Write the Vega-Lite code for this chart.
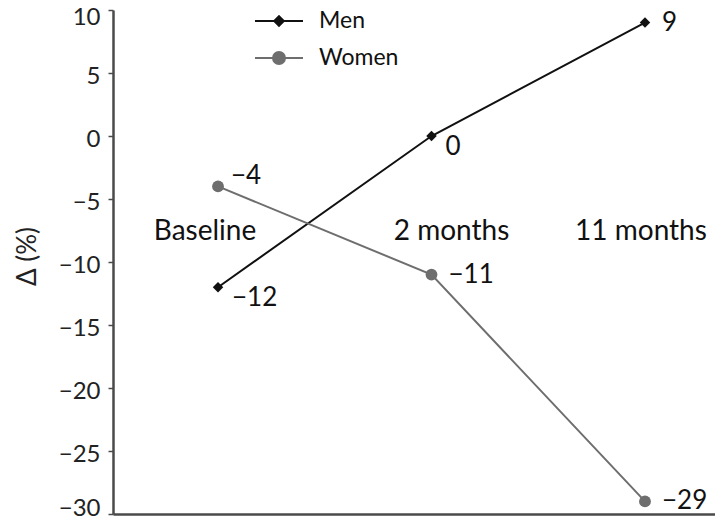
{
  "$schema": "https://vega.github.io/schema/vega-lite/v6.json",
  "width": 602,
  "height": 504,
  "autosize": "none",
  "padding": {"left": 113, "top": 10, "right": 0, "bottom": 14},
  "background": "white",
  "config": {"font": "Lato", "view": {"stroke": null}},
  "datasets": {
    "d": [
      {"group": "Men", "time": "Baseline", "value": -12},
      {"group": "Men", "time": "2 months", "value": 0},
      {"group": "Men", "time": "11 months", "value": 9},
      {"group": "Women", "time": "Baseline", "value": -4},
      {"group": "Women", "time": "2 months", "value": -11},
      {"group": "Women", "time": "11 months", "value": -29}
    ],
    "cats": [
      {"time": "Baseline", "pos": -7.6},
      {"time": "2 months", "pos": -7.6},
      {"time": "11 months", "pos": -7.6}
    ]
  },
  "data": {"name": "d"},
  "encoding": {
    "x": {
      "field": "time", "type": "nominal",
      "scale": {"type": "point", "domain": ["Baseline", "2 months", "11 months"], "padding": 0.41, "align": 0.6},
      "axis": {"title": null, "labels": false, "ticks": false, "domain": true, "domainColor": "#4a4a4a", "domainWidth": 2.5, "grid": false}
    },
    "y": {
      "field": "value", "type": "quantitative",
      "scale": {"domain": [-30, 10], "nice": false, "zero": false},
      "axis": {
        "title": "Δ (%)", "titleFontSize": 26, "titleFontWeight": "normal", "titleColor": "#222",
        "titleX": -73, "titleY": 246, "titleAngle": -90,
        "values": [-30, -25, -20, -15, -10, -5, 0, 5, 10],
        "labelFontSize": 24, "labelColor": "#222", "labelPadding": 8,
        "labelOffset": {"condition": [{"test": "datum.value === 10", "value": 7}, {"test": "datum.value === -30", "value": -6}], "value": 3},
        "tickSize": 5, "tickColor": "#4a4a4a", "tickWidth": 1.5,
        "domainColor": "#4a4a4a", "domainWidth": 2.5, "grid": false
      }
    }
  },
  "layer": [
    {
      "mark": {"type": "line", "strokeWidth": 2},
      "encoding": {
        "color": {
          "field": "group", "type": "nominal",
          "scale": {"domain": ["Men", "Women"], "range": ["#111111", "#6e6e6e"]},
          "legend": {
            "title": null, "orient": "none", "legendX": 141, "legendY": -14,
            "padding": 0, "symbolSize": 2304, "symbolStrokeWidth": 2,
            "labelFontSize": 23, "labelColor": "#111", "labelOffset": 15, "rowPadding": -5,
            "encode": {
              "symbols": {
                "update": {
                  "shape": [
                    {"test": "datum.value === 'Men'", "value": "M-1,0H1M0,-0.2L0.2,0L0,0.2L-0.2,0Z"},
                    {"value": "M-1,0H1M0.25,0A0.25,0.25 0 1,1 -0.25,0A0.25,0.25 0 1,1 0.25,0Z"}
                  ],
                  "fill": [
                    {"test": "datum.value === 'Men'", "value": "#111111"},
                    {"value": "#6e6e6e"}
                  ],
                  "stroke": [
                    {"test": "datum.value === 'Men'", "value": "#111111"},
                    {"value": "#6e6e6e"}
                  ],
                  "strokeWidth": {"value": 2},
                  "opacity": {"value": 1}
                }
              }
            }
          }
        }
      }
    },
    {
      "transform": [{"filter": "datum.group === 'Men'"}],
      "mark": {"type": "point", "shape": "diamond", "filled": true, "size": 110, "color": "#111111", "opacity": 1}
    },
    {
      "transform": [{"filter": "datum.group === 'Women'"}],
      "mark": {"type": "point", "shape": "circle", "filled": true, "size": 140, "color": "#6e6e6e", "opacity": 1}
    },
    {
      "transform": [{"filter": "datum.group === 'Men' && datum.time !== '11 months'"}],
      "mark": {"type": "text", "align": "left", "baseline": "middle", "dx": 14, "dy": 11, "fontSize": 26, "color": "#111"},
      "encoding": {"text": {"field": "value", "type": "quantitative", "format": "d"}}
    },
    {
      "transform": [{"filter": "(datum.group === 'Men' && datum.time === '11 months') || (datum.group === 'Women' && datum.time !== 'Baseline')"}],
      "mark": {"type": "text", "align": "left", "baseline": "middle", "dx": 17, "dy": 0, "fontSize": 26, "color": "#111"},
      "encoding": {"text": {"field": "value", "type": "quantitative", "format": "d"}}
    },
    {
      "transform": [{"filter": "datum.group === 'Women' && datum.time === 'Baseline'"}],
      "mark": {"type": "text", "align": "left", "baseline": "middle", "dx": 13, "dy": -10, "fontSize": 26, "color": "#111"},
      "encoding": {"text": {"field": "value", "type": "quantitative", "format": "d"}}
    },
    {
      "data": {"name": "cats"},
      "transform": [{"filter": "datum.time === 'Baseline'"}],
      "mark": {"type": "text", "align": "center", "baseline": "middle", "dx": -13, "fontSize": 28, "color": "#111"},
      "encoding": {"y": {"field": "pos", "type": "quantitative"}, "text": {"field": "time"}}
    },
    {
      "data": {"name": "cats"},
      "transform": [{"filter": "datum.time === '2 months'"}],
      "mark": {"type": "text", "align": "center", "baseline": "middle", "dx": 20, "fontSize": 28, "color": "#111"},
      "encoding": {"y": {"field": "pos", "type": "quantitative"}, "text": {"field": "time"}}
    },
    {
      "data": {"name": "cats"},
      "transform": [{"filter": "datum.time === '11 months'"}],
      "mark": {"type": "text", "align": "center", "baseline": "middle", "dx": -4, "fontSize": 28, "color": "#111"},
      "encoding": {"y": {"field": "pos", "type": "quantitative"}, "text": {"field": "time"}}
    }
  ]
}
